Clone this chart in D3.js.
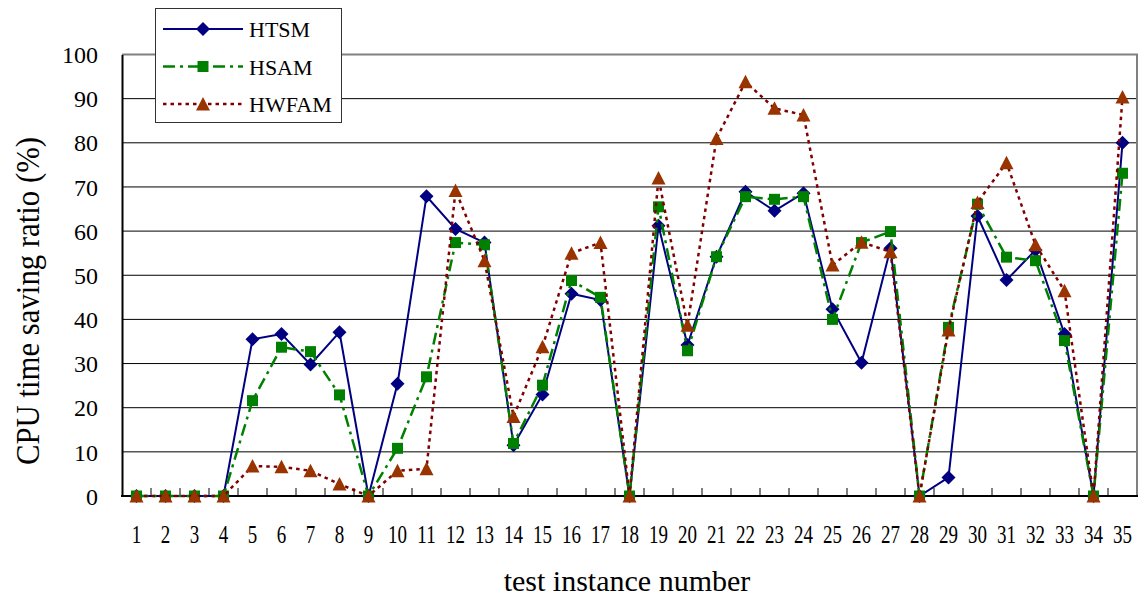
<!DOCTYPE html>
<html>
<head>
<meta charset="utf-8">
<script src="https://cdn.jsdelivr.net/npm/d3@7.9.0/dist/d3.min.js"></script>
<style>
  html, body { margin: 0; padding: 0; background: #fff; }
  svg { display: block; font-family: "Liberation Serif", "Times New Roman", serif; }
</style>
</head>
<body>
<svg id="chart" width="1140" height="599"></svg>
<script>
// ---- data ----
const instances = ['1','2','3','4','5','6','7','8','9','10','11','12','13','14','15','16','17','18',
                   '19','20','21','22','23','24','25','26','27','28','29','30','31','32','33','34','35'];
const htsm  = [0,0,0,0,35.5,36.7,29.8,37.1,0,25.4,67.9,60.5,57.4,11.5,23.0,45.8,44.4,0,
               61.2,34.2,54.2,68.9,64.6,68.6,42.3,30.2,56.1,0,4.2,63.4,48.9,55.7,36.7,0,80.0];
const hsam  = [0,0,0,0,21.6,33.7,32.7,22.9,0,10.8,27.0,57.4,56.9,11.9,25.1,48.8,45.0,0,
               65.5,32.9,54.2,67.8,67.2,67.8,40.0,57.4,59.9,0,38.2,66.1,54.1,53.3,35.2,0,73.1];
const hwfam = [0,0,0,0,6.8,6.6,5.7,2.7,0,5.7,6.2,69.2,53.3,18.0,33.8,55.0,57.4,0,
               72.0,38.7,81.0,93.8,87.8,86.3,52.3,57.5,55.3,0,37.6,66.5,75.5,56.9,46.5,0,90.4];
const yTicks = [0,10,20,30,40,50,60,70,80,90,100];

const series = [
  { name: 'HTSM',  values: htsm,  line: '#000080', dash: null,          width: 2,   marker: 'diamond',  fill: '#000080' },
  { name: 'HSAM',  values: hsam,  line: '#008000', dash: '12,5,3,5',    width: 2.5, marker: 'square',   fill: '#008000' },
  { name: 'HWFAM', values: hwfam, line: '#800000', dash: '3.5,4',       width: 2.5, marker: 'triangle', fill: '#993300' }
];

const svg = d3.select('#chart');
const plotL = 122, plotR = 1137, plotT = 54.5, plotB = 496;

const x = d3.scaleBand().domain(instances).range([plotL, plotR]).paddingInner(0).paddingOuter(0);
const y = d3.scaleLinear().domain([0, 100]).range([plotB, plotT]);
const cx = d => x(d) + x.bandwidth() / 2;

/* gridlines */
svg.append('g')
  .selectAll('line')
  .data(yTicks.filter(t => t > 0 && t < 100))
  .join('line')
    .attr('x1', plotL).attr('x2', plotR)
    .attr('y1', d => y(d)).attr('y2', d => y(d))
    .attr('stroke', '#000').attr('stroke-width', 1);

/* plot frame top / right */
svg.append('path')
  .attr('d', `M${plotL},${y(100)}H${plotR}V${plotB}`)
  .attr('fill', 'none').attr('stroke', '#808080').attr('stroke-width', 2);

/* y axis */
const yAxis = svg.append('g')
  .attr('transform', `translate(${plotL},0)`)
  .call(d3.axisLeft(y).tickValues(yTicks).tickSize(0).tickPadding(24));
yAxis.select('.domain').attr('stroke', '#000').attr('stroke-width', 2);
yAxis.selectAll('text')
  .attr('font-family', '"Liberation Serif", serif')
  .attr('font-size', 24).attr('fill', '#000').attr('dy', '0.34em');

/* x axis: ticks between bands, pointing up */
const xAxis = svg.append('g').attr('transform', `translate(0,${plotB})`);
xAxis.append('line')
  .attr('x1', plotL - 1).attr('x2', plotR + 1).attr('y1', 0).attr('y2', 0)
  .attr('stroke', '#000').attr('stroke-width', 2);
xAxis.selectAll('line.tk')
  .data(instances.slice(1))
  .join('line').attr('class', 'tk')
    .attr('x1', d => x(d)).attr('x2', d => x(d))
    .attr('y1', 0).attr('y2', -8)
    .attr('stroke', '#000').attr('stroke-width', 1);
xAxis.selectAll('text')
  .data(instances)
  .join('text')
    .attr('transform', d => `translate(${cx(d)},47) scale(0.76,1)`)
    .attr('text-anchor', 'middle')
    .attr('font-size', 25)
    .attr('fill', '#000')
    .text(d => d);

/* axis titles */
svg.append('text')
  .attr('transform', 'translate(39,301) rotate(-90)')
  .attr('text-anchor', 'middle')
  .attr('font-size', 33)
  .attr('textLength', 328).attr('lengthAdjust', 'spacingAndGlyphs')
  .text('CPU time saving ratio (%)');

svg.append('text')
  .attr('x', 627).attr('y', 591)
  .attr('text-anchor', 'middle')
  .attr('font-size', 30)
  .text('test instance number');

/* marker shapes */
function markerPath(kind) {
  if (kind === 'diamond') return 'M0,-7L7,0L0,7L-7,0Z';
  if (kind === 'square') return 'M-5.5,-5.5H5.5V5.5H-5.5Z';
  return 'M0,-7L7,6.5H-7Z';
}

const lineGen = d3.line().x((d, i) => cx(instances[i])).y(d => y(d));

series.forEach(s => {
  const g = svg.append('g');
  g.append('path')
    .attr('d', lineGen(s.values))
    .attr('fill', 'none')
    .attr('stroke', s.line)
    .attr('stroke-width', s.width)
    .attr('stroke-dasharray', s.dash);
  g.selectAll('path.mk')
    .data(s.values)
    .join('path').attr('class', 'mk')
      .attr('transform', (d, i) => `translate(${cx(instances[i])},${y(d)})`)
      .attr('d', markerPath(s.marker))
      .attr('fill', s.fill);
});

/* legend */
const legend = svg.append('g');
legend.append('rect')
  .attr('x', 155.5).attr('y', 8.5).attr('width', 186).attr('height', 114)
  .attr('fill', '#fff').attr('stroke', '#333').attr('stroke-width', 1);
const legRows = [29, 66.5, 104];
series.forEach((s, i) => {
  const ly = legRows[i];
  legend.append('line')
    .attr('x1', 163).attr('x2', 243).attr('y1', ly).attr('y2', ly)
    .attr('stroke', s.line).attr('stroke-width', s.width)
    .attr('stroke-dasharray', s.dash);
  legend.append('path')
    .attr('transform', `translate(203,${ly})`)
    .attr('d', markerPath(s.marker))
    .attr('fill', s.fill);
  legend.append('text')
    .attr('x', 249).attr('y', ly + 8)
    .attr('font-size', 22)
    .text(s.name);
});
</script>
</body>
</html>
